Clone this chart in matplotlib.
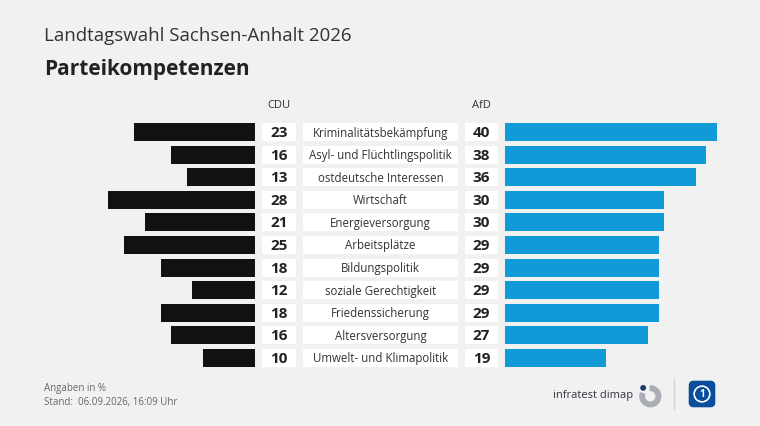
import matplotlib
matplotlib.use("Agg")
import matplotlib.pyplot as plt
from matplotlib.patches import Rectangle, FancyBboxPatch, Wedge, Circle

plt.rcParams['font.family'] = ['Open Sans', 'DejaVu Sans']

topics = ["Kriminalitätsbekämpfung", "Asyl- und Flüchtlingspolitik", "ostdeutsche Interessen",
          "Wirtschaft", "Energieversorgung", "Arbeitsplätze", "Bildungspolitik",
          "soziale Gerechtigkeit", "Friedenssicherung", "Altersversorgung", "Umwelt- und Klimapolitik"]
cdu = [23, 16, 13, 28, 21, 25, 18, 12, 18, 16, 10]
afd = [40, 38, 36, 30, 30, 29, 29, 29, 29, 27, 19]

W, H = 760, 427
bg = "#f1f1f1"
fig = plt.figure(figsize=(W/100, H/100), dpi=100, facecolor=bg)

def ax_px(x0, x1, y0, y1):
    a = fig.add_axes([x0/W, 1-y1/H, (x1-x0)/W, (y1-y0)/H])
    a.set_facecolor("none")
    a.axis("off")
    return a

n = len(topics)
ys = list(range(n))
top, bot = 122, 370
bh = 18/22.5

axL = ax_px(100, 255, top, bot)
axL.barh(ys, cdu, height=bh, color="#111111")
axL.set_xlim(155/5.25, 0); axL.set_ylim(n-0.5, -0.5)

axR = ax_px(505, 720, top, bot)
axR.barh(ys, afd, height=bh, color="#109bd8")
axR.set_xlim(0, 215/5.3); axR.set_ylim(n-0.5, -0.5)

axM = ax_px(255, 505, top, bot)
axM.set_xlim(255, 505); axM.set_ylim(n-0.5, -0.5)
for i in ys:
    for (x0, x1) in [(262, 296), (303, 458), (465, 498)]:
        axM.add_patch(Rectangle((x0, i-bh/2), x1-x0, bh, facecolor="white", edgecolor="none"))
    axM.text(279, i, str(cdu[i]), ha="center", va="center", fontsize=11, fontweight="bold", color="#222222")
    axM.text(380.5, i, topics[i], ha="center", va="center", fontsize=8.3, color="#333333")
    axM.text(481.5, i, str(afd[i]), ha="center", va="center", fontsize=11, fontweight="bold", color="#222222")

def t(x, y, s, **k):
    fig.text(x/W, 1-y/H, s, **k)

t(279, 106, "CDU", ha="center", va="center", fontsize=8, color="#333333")
t(481, 106, "AfD", ha="center", va="center", fontsize=8, color="#333333")
t(44, 36, "Landtagswahl Sachsen-Anhalt 2026", ha="left", va="center", fontsize=13.5, color="#333333")
t(44, 69, "Parteikompetenzen", ha="left", va="center", fontsize=15, fontweight="bold", color="#222222")
t(44, 389, "Angaben in %", ha="left", va="center", fontsize=7, color="#666666")
t(44, 403, "Stand:  06.09.2026, 16:09 Uhr", ha="left", va="center", fontsize=7, color="#666666")
t(633, 396, "infratest dimap", ha="right", va="center", fontsize=8, color="#333344")

axl = ax_px(636, 662, 383, 409)
axl.set_xlim(-1, 1); axl.set_ylim(-1, 1); axl.set_aspect("equal")
axl.add_patch(Wedge((0.1, -0.1), 0.8, -200, 90, width=0.35, color="#a9aeb5"))
axl.add_patch(Circle((-0.45, 0.55), 0.17, color="#1f3a6e"))

fig.add_artist(plt.Line2D([674/W, 674/W], [1-380/H, 1-410/H], color="#d5d5d5", lw=1))
axa = ax_px(688, 716, 381, 409)
axa.set_xlim(0, 1); axa.set_ylim(0, 1)
axa.add_patch(FancyBboxPatch((0.05, 0.05), 0.9, 0.9, boxstyle="round,pad=0,rounding_size=0.15", color="#0a4d9c"))
axa.add_patch(Circle((0.5, 0.5), 0.28, facecolor="none", edgecolor="white", lw=1.2))
axa.text(0.5, 0.5, "1", ha="center", va="center", color="white", fontsize=7, fontweight="bold")

fig.savefig("out.png", dpi=100, facecolor=bg)
